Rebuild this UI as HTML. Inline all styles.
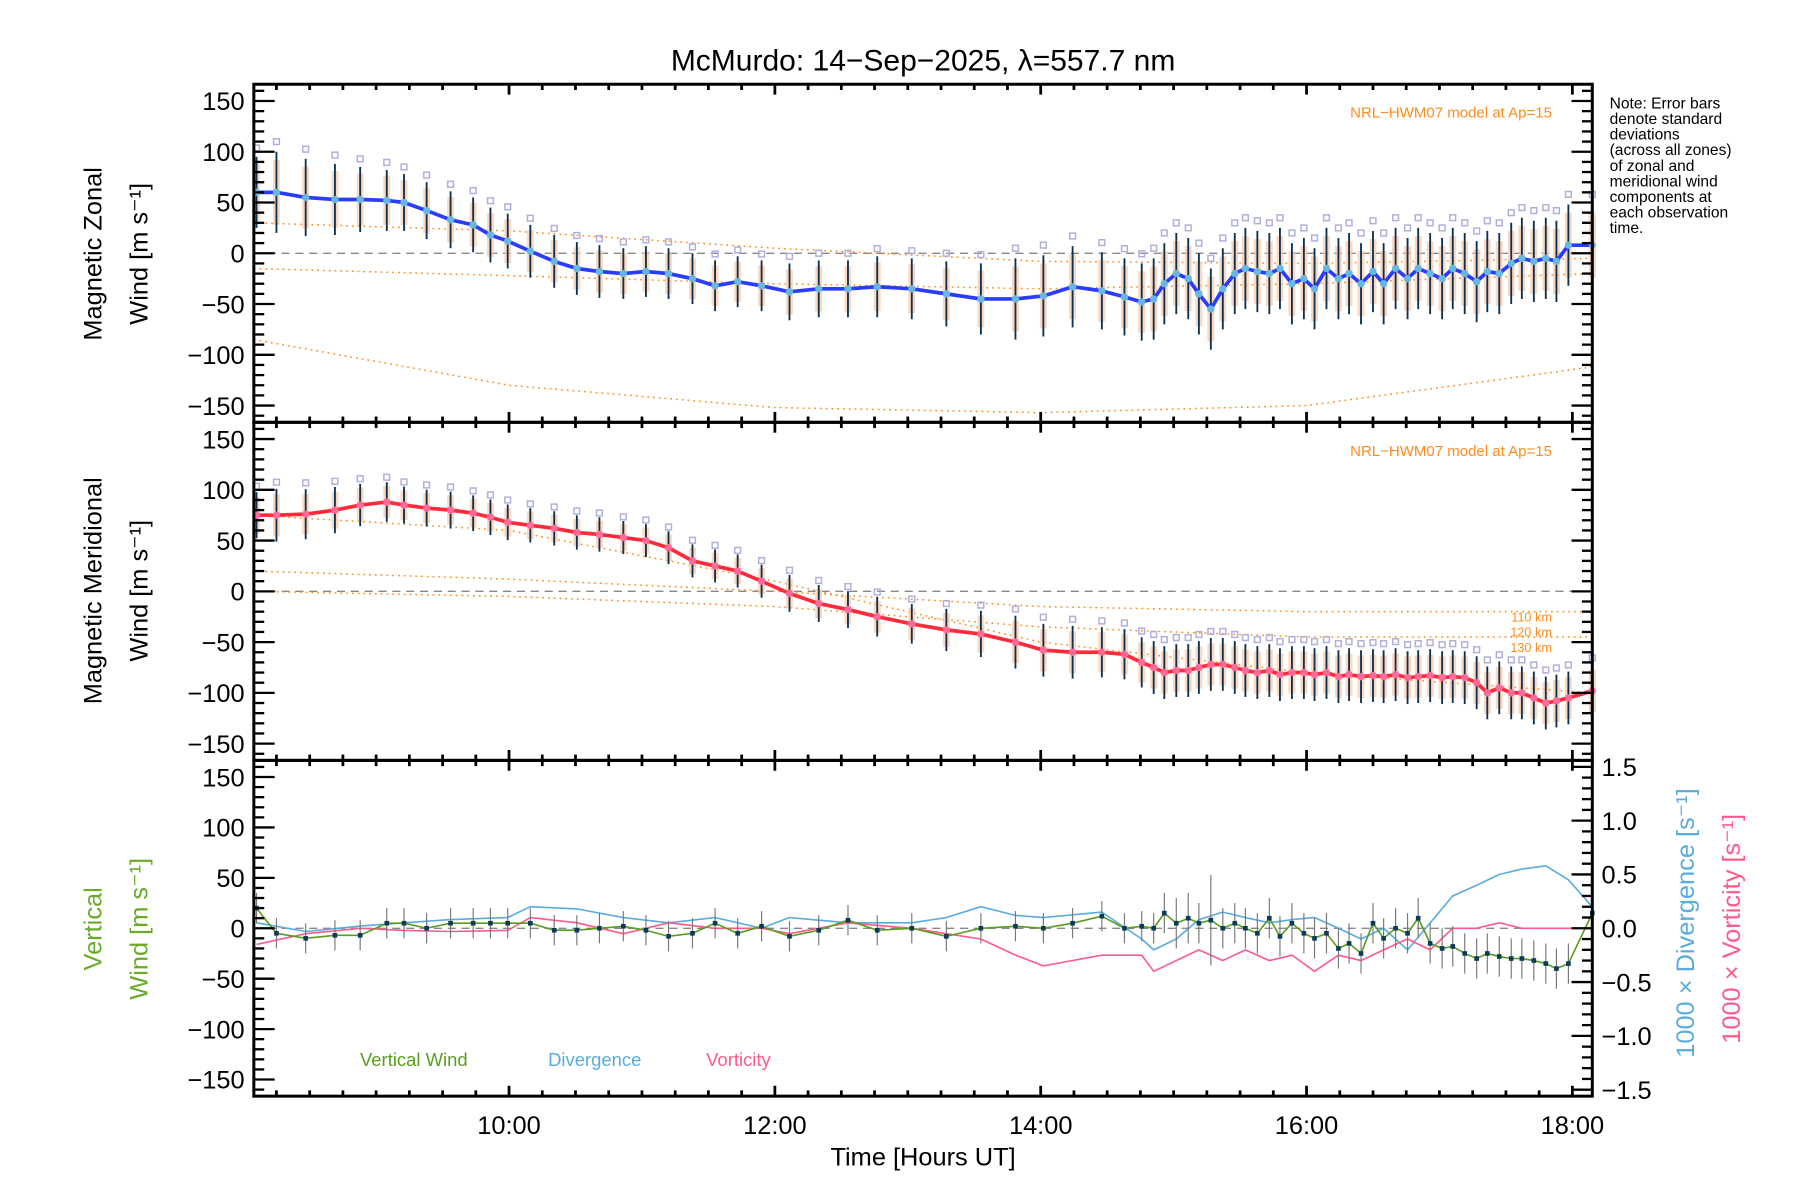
<!DOCTYPE html>
<html><head><meta charset="utf-8"><style>
html,body{margin:0;padding:0;background:#fff}
svg{display:block}
text{font-family:"Liberation Sans",sans-serif}
</style></head><body>
<svg id="c" xmlns="http://www.w3.org/2000/svg" width="1800" height="1200" viewBox="0 0 1560 1040">
<text x="800" y="61" font-size="26" text-anchor="middle">McMurdo: 14−Sep−2025, λ=557.7 nm</text>
<g font-size="13.5">
<text x="1395" y="94">Note: Error bars</text><text x="1395" y="107.5">denote standard</text><text x="1395" y="121">deviations</text><text x="1395" y="134.5">(across all zones)</text><text x="1395" y="148">of zonal and</text><text x="1395" y="161.5">meridional wind</text><text x="1395" y="175">components at</text><text x="1395" y="188.5">each observation</text><text x="1395" y="202">time.</text>
</g>
<g id="layer"></g>
</svg>
<script>
const times=[8.10,8.25,8.47,8.69,8.88,9.08,9.21,9.38,9.56,9.73,9.86,9.99,10.16,10.34,10.51,10.68,10.86,11.03,11.20,11.38,11.55,11.72,11.90,12.11,12.33,12.55,12.77,13.03,13.29,13.55,13.81,14.02,14.24,14.46,14.63,14.76,14.85,14.93,15.02,15.11,15.19,15.28,15.37,15.46,15.54,15.63,15.72,15.80,15.89,15.98,16.06,16.15,16.24,16.32,16.41,16.50,16.58,16.67,16.76,16.84,16.93,17.02,17.10,17.19,17.28,17.36,17.45,17.54,17.62,17.71,17.80,17.88,17.97,18.15];
const zonal=[60,60,55,53,53,52,50,42,33,28,18,12,2,-8,-15,-18,-20,-18,-20,-25,-32,-28,-32,-38,-35,-35,-33,-35,-40,-45,-45,-42,-33,-37,-43,-48,-45,-30,-20,-25,-40,-55,-35,-20,-15,-18,-20,-15,-30,-25,-35,-15,-25,-20,-30,-18,-30,-15,-25,-15,-20,-25,-15,-20,-28,-18,-20,-10,-5,-8,-5,-8,8,8];
const meridional=[75,75,76,80,85,88,85,82,80,77,73,68,65,62,58,56,53,50,43,30,25,20,10,-2,-12,-18,-25,-32,-38,-42,-50,-58,-60,-60,-62,-70,-75,-80,-78,-78,-75,-72,-72,-75,-78,-80,-78,-82,-80,-80,-82,-80,-84,-82,-84,-83,-84,-82,-85,-84,-83,-85,-84,-85,-90,-100,-95,-100,-100,-105,-110,-108,-105,-98];
const vertical=[20,-5,-10,-7,-7,5,5,0,5,5,5,5,5,-2,-2,0,2,-2,-8,-5,5,-5,2,-8,-2,8,-2,0,-8,0,2,0,5,12,0,2,0,15,5,10,5,8,0,5,0,-5,10,-8,5,-5,-10,-5,-20,-15,-25,5,-10,0,-5,10,-15,-20,-18,-25,-30,-25,-28,-30,-30,-32,-35,-40,-35,15];
const hSd=[35,40,38,35,32,30,28,28,28,27,27,27,26,26,26,26,25,25,25,25,25,25,25,28,28,28,30,30,32,35,40,40,40,38,38,38,40,40,40,40,40,40,40,40,40,40,40,40,40,40,40,40,40,40,40,40,40,40,40,40,40,40,40,40,40,40,40,40,40,40,40,40,40,40];
const vSd=[15,15,15,15,15,15,15,15,15,15,15,15,15,15,15,15,15,15,15,15,15,15,15,15,15,15,15,15,15,15,15,15,15,15,15,15,15,20,25,25,20,45,20,20,20,20,20,20,20,20,20,20,20,20,20,20,20,20,20,20,20,20,20,20,20,20,20,20,20,20,20,20,20,20];
const divT=[8.10,8.47,8.88,9.21,9.56,9.99,10.16,10.51,10.86,11.20,11.55,11.90,12.11,12.55,13.03,13.29,13.55,13.81,14.02,14.46,14.76,14.85,15.02,15.19,15.37,15.54,15.72,15.89,16.06,16.24,16.41,16.58,16.76,16.93,17.10,17.28,17.45,17.62,17.80,17.97,18.15];
const divergence=[0.05,-0.03,0.02,0.05,0.08,0.1,0.2,0.18,0.1,0.05,0.1,0.0,0.1,0.05,0.05,0.1,0.2,0.12,0.1,0.15,-0.1,-0.2,-0.1,0.08,0.15,0.1,0.05,0.08,0.1,0.0,-0.1,0.0,-0.2,0.05,0.3,0.4,0.5,0.55,0.58,0.45,0.2];
const vorticity=[-0.15,-0.05,0.0,-0.02,-0.03,-0.02,0.1,0.05,-0.05,0.05,0.0,0.0,-0.05,0.05,0.0,-0.05,-0.1,-0.25,-0.35,-0.25,-0.25,-0.4,-0.3,-0.2,-0.3,-0.2,-0.3,-0.25,-0.4,-0.25,-0.3,-0.2,-0.1,-0.2,0.0,0.0,0.05,0.0,0.0,0.0,0.0];
const modelT=[8.08,10,12,14,16,18.15];
const zonalModel110=[30,22,5,-8,-10,-5];
const zonalModel120=[-15,-22,-30,-35,-30,-20];
const zonalModel130=[-85,-130,-152,-157,-150,-112];
const merModel110=[20,12,0,-15,-20,-20];
const merModel120=[0,-5,-15,-35,-45,-45];
const merModel130=[75,60,10,-50,-80,-100];
const xTicks=[10,12,14,16,18];
const xTickLabels=["10:00","12:00","14:00","16:00","18:00"];
const yTicks=[-150,-100,-50,0,50,100,150];
const rTicks=[-1.5,-1.0,-0.5,0.0,0.5,1.0,1.5];

const NS="http://www.w3.org/2000/svg";
const L=document.getElementById('layer');
const X0=220,X1=1380,T0=8.08,T1=18.15;
const panels=[{top:73,bot:366},{top:366,bot:659},{top:659,bot:950}];
const YMAX=166.5, RMAX=1.56;
function xs(t){return X0+(t-T0)/(T1-T0)*(X1-X0);}
function ys(p,v){const P=panels[p];const m=(P.top+P.bot)/2;return m-v/YMAX*(P.bot-P.top)/2;}
function yr(p,v){const P=panels[p];const m=(P.top+P.bot)/2;return m-v/RMAX*(P.bot-P.top)/2;}
function mk(tag,at,parent){const e=document.createElementNS(NS,tag);for(const k in at)e.setAttribute(k,at[k]);(parent||L).appendChild(e);return e;}
function line(x1,y1,x2,y2,st,w,parent,dash){const e=mk('line',{x1,y1,x2,y2,stroke:st,'stroke-width':w},parent);if(dash)e.setAttribute('stroke-dasharray',dash);return e;}
function poly(pts,st,w,parent,dash){const e=mk('polyline',{points:pts.map(p=>p[0].toFixed(1)+','+p[1].toFixed(1)).join(' '),fill:'none',stroke:st,'stroke-width':w,'stroke-linejoin':'round'},parent);if(dash)e.setAttribute('stroke-dasharray',dash);return e;}
function txt(x,y,s,sz,anchor,fill,parent){const e=mk('text',{x,y,'font-size':sz,'text-anchor':anchor||'start',fill:fill||'#000'},parent);e.textContent=s;return e;}

function drawHoriz(p,vals,sdScale,lineCol,markCol,m110,m120,m130,name){
  const g=mk('g',{});
  
  
  line(X0,ys(p,0),X1,ys(p,0),'#888',1.2,g,'7,5');
  [m110,m120,m130].forEach((m,i)=>{const ml=poly(modelT.map((t,j)=>[xs(t),ys(p,m[j])]),'#ff8c1a',1.3,g,'1.5,3.5');
    
    });
  times.forEach((t,i)=>{const x=xs(t),v=vals[i],s=hSd[i]*sdScale;
    const r=mk('rect',{x:x-3,y:ys(p,v+s*0.8),width:6,height:ys(p,v-s*0.8)-ys(p,v+s*0.8),fill:'#f9c7a8',opacity:0.7},g);
    
    
    const q=mk('rect',{x:x-2.5,y:ys(p,v+s*1.25)-2.5,width:5,height:5,fill:'none',stroke:'#b0b0dd','stroke-width':1.3},g);
    
    
    const e=line(x,ys(p,v+s),x,ys(p,v-s),'#0b3050',1.6,g);
    
    
  });
  const pl=poly(times.map((t,i)=>[xs(t),ys(p,vals[i])]),lineCol,3.2,g);
  
  
  times.forEach((t,i)=>{const c=mk('circle',{cx:xs(t),cy:ys(p,vals[i]),r:3.2,fill:markCol},g);
    
    });
  const lb=txt(1345,102,'NRL−HWM07 model at Ap=15',13,'end','#ff8c1a',g);
  lb.setAttribute('y',panels[p].top+29);
  
  
}
drawHoriz(0,zonal,1,'#2a3cff','#66b8e0',zonalModel110,zonalModel120,zonalModel130,'zonal');
drawHoriz(1,meridional,0.65,'#ff2a3a','#ff6a9a',merModel110,merModel120,merModel130,'meridional');
[['110 km',ys(1,-25)],['120 km',ys(1,-40)],['130 km',ys(1,-55)]].forEach(a=>{const e=txt(1345,a[1]+4,a[0],11,'end','#ff8c1a');
  
  });

// panel 3
const g3=mk('g',{});


line(X0,ys(2,0),X1,ys(2,0),'#888',1.2,g3,'7,5');
const dl=poly(divT.map((t,i)=>[xs(t),yr(2,divergence[i])]),'#5aacdf',1.4,g3);


const vl=poly(divT.map((t,i)=>[xs(t),yr(2,vorticity[i])]),'#ff5a8a',1.4,g3);


times.forEach((t,i)=>{const e=line(xs(t),ys(2,vertical[i]+vSd[i]),xs(t),ys(2,vertical[i]-vSd[i]),'#777',1,g3);
  
  });
const wl=poly(times.map((t,i)=>[xs(t),ys(2,vertical[i])]),'#5a9e1e',1.4,g3);


times.forEach((t,i)=>{const r=mk('rect',{x:xs(t)-2,y:ys(2,vertical[i])-2,width:4,height:4,fill:'#0b3a5a'},g3);
  
  });
[['Vertical Wind',312,'#5a9e1e','legend-vertical-wind'],['Divergence',475,'#5aacdf','legend-divergence'],['Vorticity',612,'#ff5a8a','legend-vorticity']].forEach(a=>{
  const e=txt(a[1],924,a[0],16,'start',a[2]);
  
  });

// axes
const ga=mk('g',{});


panels.forEach((P,p)=>{
  mk('rect',{x:X0,y:P.top,width:X1-X0,height:P.bot-P.top,fill:'none',stroke:'#000','stroke-width':2.6},ga);
  for(let v=-160;v<=160;v+=10){const y=ys(p,v);const big=v%50===0;
    line(X0,y,X0+(big?18:9),y,'#000',2,ga);
    if(p<2)line(X1,y,X1-(big?18:9),y,'#000',2,ga);}
  yTicks.forEach(v=>{const e=txt(212,ys(p,v)+8,v<0?'−'+(-v):String(v),22,'end','#000',ga);
    
    });
  for(let t=8.25;t<=18.1;t+=0.25){const x=xs(t);const big=Math.abs(t/2-Math.round(t/2))<0.01;
    line(x,P.top,x,P.top+(big?9:5),'#000',2.4,ga);line(x,P.bot,x,P.bot-(big?9:5),'#000',2.4,ga);}
});
for(let v=-1.5;v<=1.55;v+=0.1){const y=yr(2,v);const big=Math.abs(v*2-Math.round(v*2))<0.01;line(X1,y,X1-(big?18:9),y,'#000',2,ga);}
rTicks.forEach(v=>{const e=txt(1388,yr(2,v)+8,(v<0?'−':'')+Math.abs(v).toFixed(1),22,'start','#000',ga);
  
  });
xTicks.forEach((t,i)=>{const e=txt(xs(t),983,xTickLabels[i],22,'middle','#000',ga);
  
  });
const xt=txt(800,1010,'Time [Hours UT]',22,'middle','#000',ga);


function vtext(x,y,s,col,name){const e=txt(0,0,s,22,'middle',col,ga);e.setAttribute('transform','translate('+x+','+y+') rotate(-90)');
  
  return e;}
vtext(88,220,'Magnetic Zonal','#000','zonal-y-title-1');
vtext(128,220,'Wind [m s⁻¹]','#000','zonal-y-title-2');
vtext(88,512,'Magnetic Meridional','#000','meridional-y-title-1');
vtext(128,512,'Wind [m s⁻¹]','#000','meridional-y-title-2');
vtext(88,805,'Vertical','#6aaa2a','vertical-y-title-1');
vtext(128,805,'Wind [m s⁻¹]','#6aaa2a','vertical-y-title-2');
vtext(1468,800,'1000 × Divergence [s⁻¹]','#5aacdf','divergence-axis-title');
vtext(1508,805,'1000 × Vorticity [s⁻¹]','#ff5a8a','vorticity-axis-title');
</script>
</body></html>
